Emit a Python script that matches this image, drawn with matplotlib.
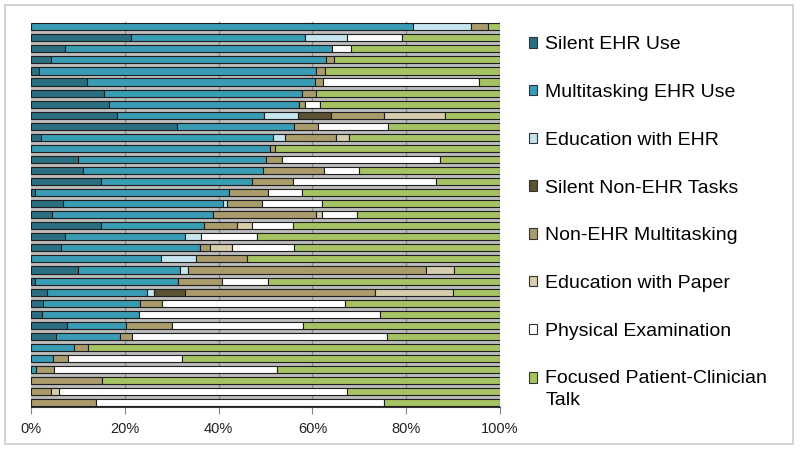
import matplotlib.pyplot as plt
import numpy as np
from matplotlib.patches import Rectangle

plt.rcParams['font.family'] = ['Liberation Sans', 'DejaVu Sans']

# share of visit time (%), one entry per visit, top bar first
silent_ehr = [0, 21.3, 7.2, 4.3, 1.7, 11.9, 15.6, 16.6, 18.2, 31.0,
              2.0, 0, 10.0, 11.1, 14.9, 0.9, 6.8, 4.5, 14.8, 7.2,
              6.3, 0, 10.0, 0.9, 3.3, 2.6, 2.4, 7.7, 5.2, 0,
              0, 0, 0, 0, 0]
multi_ehr = [81.5, 37.1, 57.0, 58.6, 59.1, 48.7, 42.2, 40.5, 31.5, 25.1,
             49.5, 51.0, 40.0, 38.4, 32.1, 41.2, 34.2, 34.2, 22.1, 25.6,
             29.8, 27.7, 21.8, 30.4, 21.4, 20.6, 20.5, 12.6, 13.8, 9.2,
             4.7, 1.0, 0, 0, 0]
edu_ehr = [12.3, 8.9, 0, 0, 0, 0, 0, 0, 7.2, 0,
           2.7, 0, 0, 0, 0, 0, 0.8, 0, 0, 3.5,
           0, 7.5, 1.7, 0, 1.4, 0, 0, 0, 0, 0,
           0, 0, 0, 0, 0]
silent_non_ehr = [0, 0, 0, 0, 0, 0, 0, 0, 7.1, 0,
                  0, 0, 0, 0, 0, 0, 0, 0, 0, 0,
                  0, 0, 0, 0, 6.8, 0, 0, 0, 0, 0,
                  0, 0, 0, 0, 0]
non_ehr_multi = [3.6, 0, 0, 1.7, 1.9, 1.7, 3.0, 1.2, 11.3, 5.1,
                 10.9, 1.0, 3.5, 13.0, 8.9, 8.4, 7.4, 22.1, 7.0, 0,
                 2.1, 10.9, 50.7, 9.4, 40.5, 4.6, 0, 9.8, 2.5, 3.0,
                 3.2, 3.9, 15.2, 4.3, 13.8]
edu_paper = [0, 0, 0, 0, 0, 0, 0, 0, 13.0, 0,
             2.7, 0, 0, 0, 0, 0, 0, 1.2, 3.1, 0,
             4.7, 0, 5.9, 0, 16.6, 0, 0, 0, 0, 0,
             0, 0, 0, 1.7, 0]
phys_exam = [0, 11.9, 4.0, 0, 0, 33.3, 0, 3.3, 0, 14.9,
             0, 0, 33.7, 7.4, 30.5, 7.3, 12.8, 7.5, 8.9, 11.9,
             13.2, 0, 0, 9.8, 0, 39.2, 51.4, 27.9, 54.5, 0,
             24.3, 47.5, 0, 61.4, 61.5]
talk = [2.6, 20.8, 31.8, 35.4, 37.3, 4.4, 39.2, 38.4, 11.7, 23.9,
        32.2, 48.0, 12.8, 30.1, 13.6, 42.2, 38.0, 30.5, 44.1, 51.8,
        43.9, 53.9, 9.9, 49.5, 10.0, 33.0, 25.7, 42.0, 24.0, 87.8,
        67.8, 47.6, 84.8, 32.6, 24.7]

labels = ['Silent EHR Use', 'Multitasking EHR Use', 'Education with EHR',
          'Silent Non-EHR Tasks', 'Non-EHR Multitasking', 'Education with Paper',
          'Physical Examination', 'Focused Patient-Clinician\nTalk']
series = [silent_ehr, multi_ehr, edu_ehr, silent_non_ehr, non_ehr_multi,
          edu_paper, phys_exam, talk]
colors = ['#2a6f80', '#3a9bb4', '#c6e5ef', '#5b5233', '#a99b6b',
          '#d5cdab', '#ffffff', '#a6c363']

fig = plt.figure(figsize=(8, 4.49), dpi=100)
ax = fig.add_axes([0.039, 0.0933, 0.586, 0.857])

n = len(talk)
y = np.arange(n)
ax.axhspan(0, n - 1, color='#bcbcbc', zorder=0)
for gx in [20, 40, 60, 80]:
    ax.axvline(gx, color='#8a8a8a', lw=1, zorder=0.5)

left = np.zeros(n)
for vals, col in zip(series, colors):
    vals = np.array(vals, dtype=float)
    m = vals > 0
    ax.barh(y[m], vals[m], left=left[m], height=0.64, color=col,
            edgecolor='#1e1e1e', linewidth=0.8, zorder=2)
    left += vals

ax.set_xlim(0, 100)
ax.set_ylim(n - 1 + 0.4, -0.4)
ax.set_yticks([])
ax.set_xticks([0, 20, 40, 60, 80, 100])
ax.set_xticklabels(['0%', '20%', '40%', '60%', '80%', '100%'], fontsize=10.5, color='#222222')
ax.tick_params(axis='x', length=5, color='#888888', pad=6)
for s in ['top', 'right', 'left']:
    ax.spines[s].set_visible(False)
ax.spines['bottom'].set_color('#333333')

handles = [Rectangle((0, 0), 1, 1, facecolor=c, edgecolor='#333333', linewidth=0.8) for c in colors]
leg = fig.legend(handles, labels, loc='upper left', bbox_to_anchor=(0.639, 0.958),
                 frameon=False, fontsize=14, handlelength=0.45, handleheight=0.45,
                 handletextpad=0.4, labelspacing=1.58)
for t in leg.get_texts():
    t.set_linespacing(1.35)
# put the square of the two-line entry next to its first line
last = leg.legend_handles[-1]
last.set_y(last.get_y() + 8.5)

fig.add_artist(Rectangle((0.006, 0.011), 0.985, 0.977, transform=fig.transFigure,
                         fill=False, edgecolor='#cccccc', linewidth=1.2))

fig.savefig('out.png', dpi=100)
